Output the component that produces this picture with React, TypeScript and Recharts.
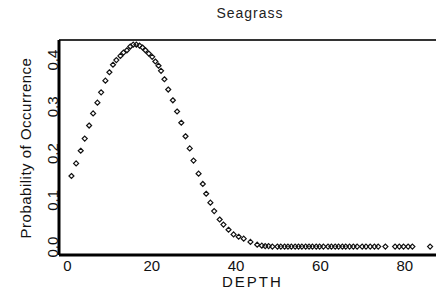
import { ReferenceLine, Scatter, ScatterChart, XAxis, YAxis } from 'recharts';

// depth (x) and probability (y)
const depths = [
  0.95, 2.06, 3.15, 4.1, 5.14, 6.09, 7.11, 7.99, 9.0, 9.95, 10.8, 11.6, 12.56,
  13.3, 14.1, 14.9, 15.6, 16.35, 17.1, 17.8, 18.5, 19.3, 20.1, 20.85, 21.6,
  22.2, 23.0, 23.9, 25.0, 26.0, 27.0, 28.0, 29.0, 29.9, 31.1, 32.1, 32.9, 33.9,
  34.8, 36.1, 37.0, 38.2, 39.4, 40.6, 41.8, 43.4, 45.0, 46.1, 46.9, 47.7, 48.6,
  49.8, 50.6, 51.5, 52.3, 53.1, 54.0, 54.8, 55.6, 56.5, 57.3, 58.1, 59.0, 59.8,
  60.7, 61.8, 62.6, 63.5, 64.3, 65.2, 66.0, 66.9, 67.8, 68.7, 69.9, 70.8, 71.8,
  72.8, 73.7, 75.4, 77.7, 78.7, 79.7, 80.8, 81.8, 86.0,
];
const probability = [
  0.152, 0.179, 0.206, 0.232, 0.26, 0.286, 0.309, 0.331, 0.356, 0.374, 0.39,
  0.4, 0.409, 0.416, 0.421, 0.429, 0.433, 0.433, 0.431, 0.427, 0.421, 0.414,
  0.407, 0.397, 0.388, 0.377, 0.359, 0.337, 0.314, 0.29, 0.266, 0.237, 0.211,
  0.185, 0.157, 0.135, 0.114, 0.095, 0.077, 0.059, 0.048, 0.037, 0.027, 0.022,
  0.018, 0.011, 0.005, 0.003, 0.002, 0.002, 0.001, 0.001, 0.001, 0.001, 0.001,
  0.001, 0.001, 0.001, 0.001, 0.001, 0.001, 0.001, 0.001, 0.001, 0.001, 0.001,
  0.001, 0.001, 0.001, 0.001, 0.001, 0.001, 0.001, 0.001, 0.001, 0.001, 0.001,
  0.001, 0.001, 0.001, 0.001, 0.001, 0.001, 0.001, 0.001, 0.001,
];
const xTicks = [0, 20, 40, 60, 80];
const yTicks = [0, 0.1, 0.2, 0.3, 0.4];

const Y_MAX = 0.443;
const data = depths.map((d, i) => ({ depth: d, p: probability[i] }));
const font = 'Arial, "Liberation Sans", sans-serif';

function Marker(props: any) {
  const { cx, cy } = props;
  return (
    <path
      d={`M${cx},${cy - 2.5} L${cx + 2.5},${cy} L${cx},${cy + 2.5} L${cx - 2.5},${cy} Z`}
      fill="none"
      stroke="#111"
      strokeWidth={1.2}
    />
  );
}

function XTick({ x, y, payload }: any) {
  return (
    <text x={x} y={y + 8} textAnchor="middle" fontSize={15} fontFamily={font} fill="#111">
      {payload.value}
    </text>
  );
}

function YTick({ x, y, payload }: any) {
  const tx = x + 7;
  return (
    <text
      x={tx}
      y={y}
      transform={`rotate(-90 ${tx} ${y})`}
      textAnchor="middle"
      fontSize={15}
      fontFamily={font}
      fill="#111"
    >
      {Number(payload.value).toFixed(1)}
    </text>
  );
}

export default function App() {
  return (
    <div style={{ position: 'absolute', left: 0, top: 0, width: 436, height: 295, background: '#fff', overflow: 'hidden' }}>
      <div style={{ position: 'absolute', left: 150, top: 5, width: 200, textAlign: 'center', fontFamily: font, fontSize: 14, letterSpacing: 1, color: '#222' }}>
        Seagrass
      </div>
      <div style={{ position: 'absolute', left: 222, top: 274, lineHeight: '15px', fontFamily: font, fontSize: 15, letterSpacing: 2, color: '#111' }}>
        DEPTH
      </div>
      <div
        style={{
          position: 'absolute',
          left: 26 - 110,
          top: 148 - 10,
          width: 220,
          height: 20,
          lineHeight: '20px',
          textAlign: 'center',
          transform: 'rotate(-90deg)',
          fontFamily: font,
          fontSize: 15,
          letterSpacing: 0.5,
          color: '#111',
          whiteSpace: 'nowrap',
        }}
      >
        Probability of Occurrence
      </div>
      <ScatterChart width={436} height={295} margin={{ top: 40, right: 0, bottom: 0, left: 0 }}>
        <XAxis
          type="number"
          dataKey="depth"
          domain={[-2, 87.4]}
          ticks={xTicks}
          height={40}
          tickLine={false}
          axisLine={{ stroke: '#000', strokeWidth: 3 }}
          tick={<XTick />}
          allowDataOverflow
        />
        <YAxis
          type="number"
          dataKey="p"
          domain={[-0.017, Y_MAX]}
          ticks={yTicks}
          width={59}
          tickLine={false}
          axisLine={{ stroke: '#000', strokeWidth: 3 }}
          tick={<YTick />}
          allowDataOverflow
        />
        <ReferenceLine y={Y_MAX} stroke="#333" strokeWidth={2} ifOverflow="visible" />
        <Scatter data={data} shape={<Marker />} isAnimationActive={false} />
      </ScatterChart>
    </div>
  );
}
